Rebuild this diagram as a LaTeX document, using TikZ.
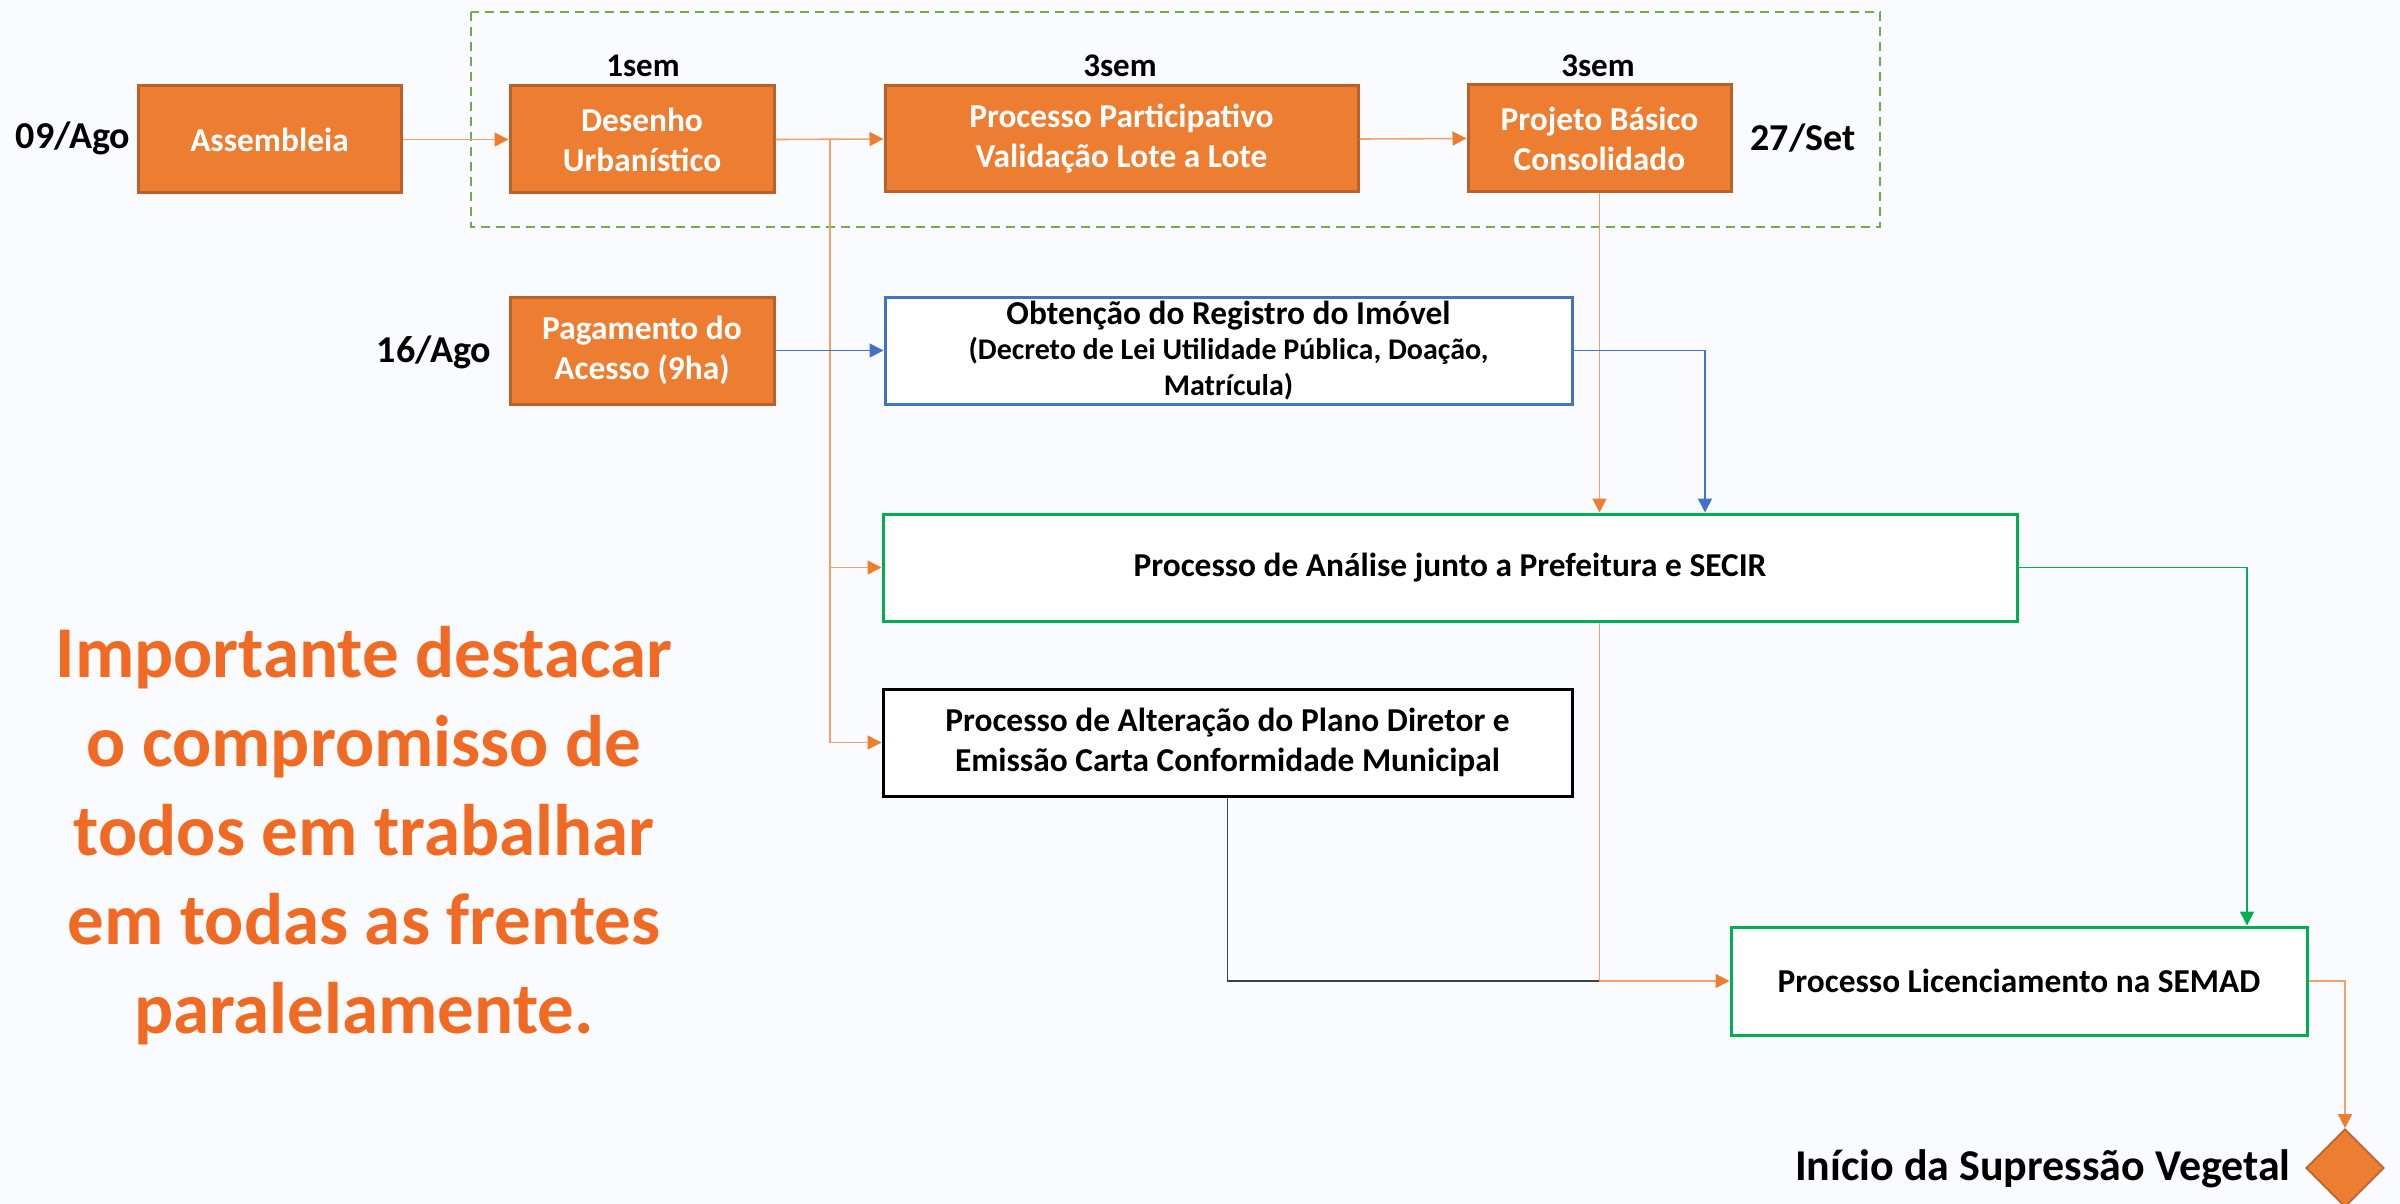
\documentclass[tikz,border=0pt]{standalone}
\usepackage{fontspec}
\setmainfont{Carlito}
\usetikzlibrary{arrows.meta,shapes.geometric}
\definecolor{bg}{HTML}{F9FBFE}
\definecolor{ofill}{HTML}{ED7D31}
\definecolor{odark}{HTML}{B8612A}
\definecolor{oline}{HTML}{F2A06A}
\definecolor{bblue}{HTML}{4472C4}
\definecolor{ggreen}{HTML}{00B050}
\definecolor{dgreen}{HTML}{70AD47}
\definecolor{bigor}{HTML}{F06A23}
\definecolor{dgray}{HTML}{404040}
\tikzset{
  obox/.style={draw=odark, fill=ofill, line width=1.5pt, text=white, align=center, inner sep=0pt,
    font=\bfseries\fontsize{16.7}{20}\selectfont},
  wbox/.style={fill=white, line width=1.5pt, text=black, align=center, inner sep=0pt,
    font=\bfseries\fontsize{16.7}{20}\selectfont},
  datelbl/.style={font=\bfseries\fontsize{19}{23}\selectfont, text=black, inner sep=0pt},
  semlbl/.style={font=\bfseries\fontsize{16.5}{20}\selectfont, text=black, inner sep=0pt},
  olink/.style={draw=oline, line width=0.8pt, -{Triangle[length=7pt,width=7pt,color=ofill]}},
  blink/.style={draw=bblue, line width=0.8pt, -{Triangle[length=7pt,width=7pt,color=bblue]}},
  glink/.style={draw=ggreen, line width=0.8pt, -{Triangle[length=7pt,width=7pt,color=ggreen]}},
  klink/.style={draw=dgray, line width=0.8pt},
}
\begin{document}
\begin{tikzpicture}[x=0.5pt,y=-0.5pt]
\fill[bg] (0,0) rectangle (2400,1204);
\useasboundingbox (0,0) rectangle (2400,1204);

% dashed group
\draw[dgreen, line width=1.3pt, dash pattern=on 4.5pt off 3pt] (471,12) rectangle (1880,227);

% top row
\node[obox, minimum width=131.5pt, minimum height=53.5pt] (asm) at (269.5,139.5) {Assembleia};
\node[obox, minimum width=132pt, minimum height=53.5pt] (des) at (642,139.5) {Desenho\\Urbanístico};
\node[obox, minimum width=236.5pt, minimum height=53pt] (par) at (1121.5,139) {Processo Participativo\\Validação Lote a Lote};
\node[obox, minimum width=131.5pt, minimum height=53.5pt] (proj) at (1599.5,138.5) {Projeto Básico\\Consolidado};

\node[datelbl] (d1) at (73,138) {09/Ago};
\node[datelbl] (d2) at (1803,138) {27/Set};
\node[semlbl] (s1) at (643,66) {1sem};
\node[semlbl] (s2) at (1120,66) {3sem};
\node[semlbl] (s3) at (1598,66) {3sem};

% second row
\node[obox, minimum width=132pt, minimum height=53.5pt] (pag) at (642,350.5) {Pagamento do\\Acesso (9ha)};
\node[datelbl] (d3) at (434,352) {16/Ago};
\node[wbox, draw=bblue, minimum width=343.5pt, minimum height=53.5pt, font=\bfseries\fontsize{15}{17.8}\selectfont] (obt) at (1228.5,350.5)
  {\fontsize{16.7}{17.8}\selectfont Obtenção do Registro do Imóvel\\(Decreto de Lei Utilidade Pública, Doação,\\Matrícula)};

% analysis
\node[wbox, draw=ggreen, minimum width=567pt, minimum height=53.5pt] (ana) at (1450,567.5) {Processo de Análise junto a Prefeitura e SECIR};
\node[wbox, draw=black, minimum width=344.5pt, minimum height=53.5pt] (alt) at (1227.5,742.5) {Processo de Alteração do Plano Diretor e\\Emissão Carta Conformidade Municipal};
\node[wbox, draw=ggreen, minimum width=288pt, minimum height=54pt] (lic) at (2019,981) {Processo Licenciamento na SEMAD};

% milestone
\node[diamond, aspect=1, draw=odark, fill=ofill, line width=0.8pt, minimum size=39pt, inner sep=0pt] (dia) at (2345,1168) {};
\node[font=\bfseries\fontsize{22}{26}\selectfont, anchor=east, inner sep=0pt] (ini) at (2291,1169) {Início da Supressão Vegetal};

% big note
\node[font=\bfseries\fontsize{36.5}{44.5}\selectfont, text=bigor, align=center, inner sep=0pt] (note) at (364,836)
  {Importante destacar\\o compromisso de\\todos em trabalhar\\em todas as frentes\\paralelamente.};

% connectors
\coordinate (br) at (830,139.5);
\coordinate (bx) at (1705,0);
\coordinate (gx) at (2247,0);
\draw[olink] (asm.east) -- (des.west);
\draw[olink] (des.east) -- (par.west);
\draw[olink] (par.east) -- (proj.west);
\draw[olink] (br) |- (ana.west);
\draw[olink] (br) |- (alt.west);
\draw[olink] (proj.south) -- (proj.south |- ana.north);
\draw[blink] (pag.east) -- (obt.west);
\draw[blink] (obt.east) -| (bx |- ana.north);
\draw[glink] (ana.east) -| (gx |- lic.north);
\draw[klink] (alt.south) |- (proj.south |- lic.west);
\draw[olink] (proj.south |- ana.south) |- (lic.west);
\draw[olink] (lic.east) -| (dia.north);
\end{tikzpicture}
\end{document}
